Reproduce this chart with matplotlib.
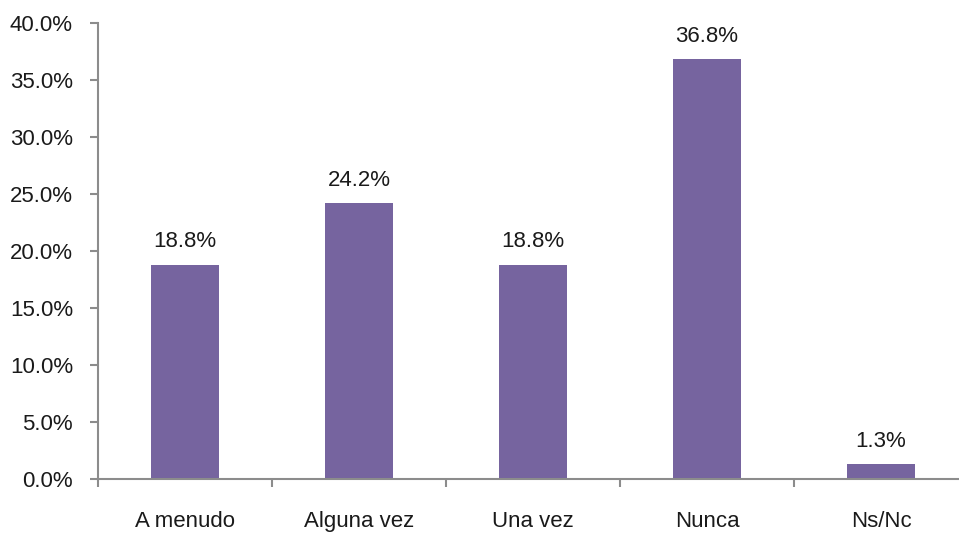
import numpy as np
import matplotlib
matplotlib.use("Agg")
import matplotlib.pyplot as plt
import matplotlib.ticker as mticker

# Frequency of responses (percent)
categories = ["A menudo", "Alguna vez", "Una vez", "Nunca", "Ns/Nc"]
values     = [18.8, 24.2, 18.8, 36.8, 1.3]

BAR_COLOR  = "#76649f"
AXIS_COLOR = "#8c8c8c"
TEXT_COLOR = "#1a1a1a"
FONT_SIZE  = 16

plt.rcParams["font.family"] = ["Liberation Sans", "DejaVu Sans"]

fig = plt.figure(figsize=(9.59, 5.35), dpi=100)
ax = fig.add_axes([98 / 959, 1 - 479 / 535, 870 / 959, (479 - 23) / 535])

x = np.arange(len(categories))
bars = ax.bar(x, values, width=0.39, color=BAR_COLOR, zorder=2)

for xi, v in zip(x, values):
    ax.annotate(f"{v:.1f}%", (xi, v), xytext=(0, 9), textcoords="offset points",
                ha="center", va="bottom", fontsize=FONT_SIZE, color=TEXT_COLOR)

ax.set_xlim(-0.5, len(categories) - 0.5)
ax.set_ylim(0, 40)
ax.yaxis.set_major_locator(mticker.MultipleLocator(5))
ax.yaxis.set_major_formatter(mticker.FuncFormatter(lambda v, _: f"{v:.1f}%"))

# labels under bar centres, tick marks on category boundaries
ax.set_xticks(x)
ax.set_xticklabels(categories)
ax.set_xticks(np.arange(-0.5, len(categories)), minor=True)
ax.tick_params(axis="x", which="major", length=0, pad=23, labelsize=FONT_SIZE, colors=TEXT_COLOR)
ax.tick_params(axis="x", which="minor", length=6, width=1.5, color=AXIS_COLOR, direction="out")
ax.tick_params(axis="y", length=6, width=1.5, color=AXIS_COLOR, pad=12,
               labelsize=FONT_SIZE, labelcolor=TEXT_COLOR, direction="out")

for side in ("top", "right"):
    ax.spines[side].set_visible(False)
for side in ("left", "bottom"):
    ax.spines[side].set_color(AXIS_COLOR)
    ax.spines[side].set_linewidth(1.5)

fig.savefig("out.png", dpi=100, facecolor="white")
